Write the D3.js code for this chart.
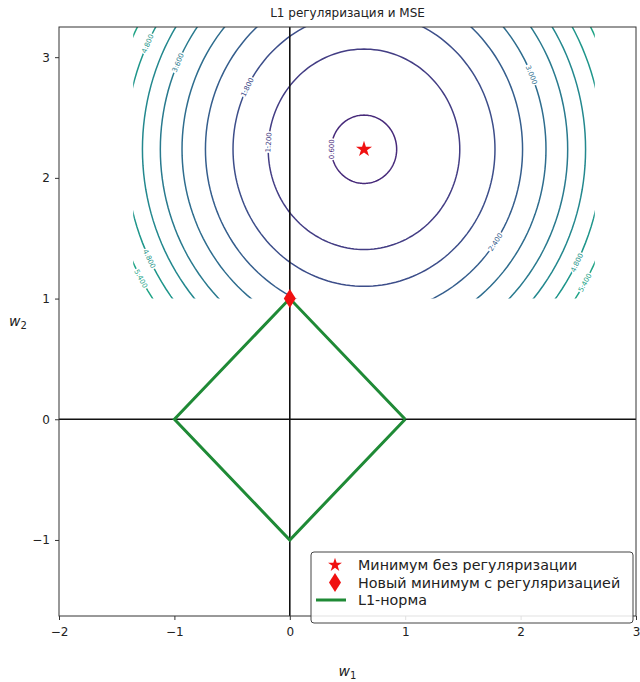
<!DOCTYPE html>
<html lang="ru">
<head>
  <meta charset="UTF-8">
  <title>L1 регуляризация и MSE</title>
  <script src="https://d3js.org/d3.v7.min.js"></script>
  <style>
    body { margin: 0; background: #fff; font-family: "DejaVu Sans", sans-serif; }
    svg { display: block; }
  </style>
</head>
<body>
  <div id="chart"></div>
  <script>
    // axis settings
    const xDomain = [-2, 3];
    const yDomain = [-1.63, 3.25];
    const xTicks = [-2, -1, 0, 1, 2, 3];
    const yTicks = [-1, 0, 1, 2, 3];

    // MSE minimum and the new (regularized) minimum
    const mseMin = [0.643, 2.237];
    const newMin = [0, 1];

    // contour levels and the radius of each circle
    const levels = [0.6, 1.2, 1.8, 2.4, 3.0, 3.6, 4.2, 4.8, 5.4];
    const radii  = [0.283, 0.83, 1.135, 1.374, 1.577, 1.765, 1.92, 2.07, 2.21];
    // extent of the grid the contours were computed on
    const gridX = [-1.357, 2.643];
    const gridY = [1.0, 3.4];

    // contour labels: level and angle on the circle (degrees)
    const labelLevels = [0.6, 1.2, 1.8, 2.4, 3.0, 3.6, 4.8, 4.8, 5.4, 4.8, 5.4];
    const labelAngles = [180, 176, 153, -34, 23, 156, 155, -154, -151, -27, -30];

    // L1 ball
    const l1X = [1, 0, -1, 0, 1];
    const l1Y = [0, 1, 0, -1, 0];

    const width = 640, height = 682;
    const margin = { top: 27, right: 4, bottom: 66, left: 59 };

    const svg = d3.select('#chart').append('svg')
      .attr('width', width)
      .attr('height', height);

    const x = d3.scaleLinear().domain(xDomain).range([margin.left, width - margin.right]);
    const y = d3.scaleLinear().domain(yDomain).range([height - margin.bottom, margin.top]);

    const color = i => d3.interpolateViridis(0.12 + i * 0.058);

    // clip to the grid area
    const defs = svg.append('defs');
    defs.append('clipPath').attr('id', 'grid-clip')
      .append('rect')
      .attr('x', x(gridX[0])).attr('y', Math.max(y(gridY[1]), margin.top))
      .attr('width', x(gridX[1]) - x(gridX[0]))
      .attr('height', y(gridY[0]) - Math.max(y(gridY[1]), margin.top));

    // contours
    const angles = d3.range(0, 361, 2);
    const circleLine = d3.line()
      .x(d => x(mseMin[0] + d.r * Math.cos(d.a * Math.PI / 180)))
      .y(d => y(mseMin[1] + d.r * Math.sin(d.a * Math.PI / 180)));

    const contourG = svg.append('g').attr('clip-path', 'url(#grid-clip)');
    contourG.selectAll('path')
      .data(levels)
      .enter().append('path')
      .attr('d', (lv, i) => circleLine(angles.map(a => ({ a: a, r: radii[i] }))))
      .attr('fill', 'none')
      .attr('stroke', (lv, i) => color(i))
      .attr('stroke-width', 1.5);

    // contour labels
    const labelG = svg.append('g');
    labelLevels.forEach((lv, k) => {
      const i = levels.indexOf(lv);
      const a = labelAngles[k] * Math.PI / 180;
      const px = x(mseMin[0] + radii[i] * Math.cos(a));
      const py = y(mseMin[1] + radii[i] * Math.sin(a));
      const sx = x(1) - x(0), sy = y(0) - y(1);
      let rot = Math.atan2(-Math.cos(a) * sy, -Math.sin(a) * sx) * 180 / Math.PI;
      if (rot > 90) rot -= 180;
      if (rot < -90) rot += 180;
      labelG.append('text')
        .attr('transform', `translate(${px},${py}) rotate(${rot})`)
        .attr('text-anchor', 'middle')
        .attr('dy', '0.35em')
        .attr('font-size', 7)
        .attr('fill', color(i))
        .attr('stroke', '#fff')
        .attr('stroke-width', 3)
        .attr('paint-order', 'stroke')
        .text(lv.toFixed(3));
    });

    // zero lines
    svg.append('line')
      .attr('x1', x(0)).attr('x2', x(0))
      .attr('y1', margin.top).attr('y2', height - margin.bottom)
      .attr('stroke', '#111').attr('stroke-width', 1.6);
    svg.append('line')
      .attr('x1', margin.left).attr('x2', width - margin.right)
      .attr('y1', y(0)).attr('y2', y(0))
      .attr('stroke', '#111').attr('stroke-width', 1.6);

    // L1 norm
    const l1Line = d3.line().x(d => x(d[0])).y(d => y(d[1]));
    svg.append('path')
      .attr('d', l1Line(l1X.map((v, i) => [v, l1Y[i]])))
      .attr('fill', 'none')
      .attr('stroke', '#1f8a36')
      .attr('stroke-width', 3)
      .attr('stroke-linejoin', 'miter');

    // markers
    const star = d3.symbol().type(d3.symbolStar).size(80);
    svg.append('path')
      .attr('d', star())
      .attr('transform', `translate(${x(mseMin[0])},${y(mseMin[1])})`)
      .attr('fill', '#f01010');

    const thinDiamond = 'M0,-9.5L6,0L0,9.5L-6,0Z';
    svg.append('path')
      .attr('d', thinDiamond)
      .attr('transform', `translate(${x(newMin[0])},${y(newMin[1])})`)
      .attr('fill', '#f01010');

    // axes
    const fmt = d => d < 0 ? '\u2212' + Math.abs(d) : d;
    const xAxis = svg.append('g')
      .attr('transform', `translate(0,${height - margin.bottom})`)
      .call(d3.axisBottom(x).tickValues(xTicks).tickSize(4).tickPadding(7).tickFormat(fmt));
    const yAxis = svg.append('g')
      .attr('transform', `translate(${margin.left},0)`)
      .call(d3.axisLeft(y).tickValues(yTicks).tickSize(4).tickPadding(5).tickFormat(fmt));
    [xAxis, yAxis].forEach(g => {
      g.select('.domain').remove();
      g.selectAll('text').attr('font-size', 12).attr('font-family', 'DejaVu Sans').attr('fill', '#222');
      g.selectAll('line').attr('stroke', '#333');
    });

    // frame
    svg.append('rect')
      .attr('x', margin.left).attr('y', margin.top)
      .attr('width', width - margin.left - margin.right)
      .attr('height', height - margin.top - margin.bottom)
      .attr('fill', 'none').attr('stroke', '#333').attr('stroke-width', 1);

    // title and labels
    svg.append('text')
      .attr('x', (margin.left + width - margin.right) / 2).attr('y', 17)
      .attr('text-anchor', 'middle').attr('font-size', 12).attr('fill', '#222')
      .text('L1 регуляризация и MSE');

    const xl = svg.append('text')
      .attr('x', (margin.left + width - margin.right) / 2).attr('y', 676)
      .attr('text-anchor', 'middle').attr('font-size', 14).attr('fill', '#222')
      .attr('font-style', 'italic');
    xl.append('tspan').text('w');
    xl.append('tspan').attr('font-size', 10).attr('dy', 3).attr('font-style', 'normal').text('1');

    const yl = svg.append('text')
      .attr('x', 18).attr('y', 326)
      .attr('text-anchor', 'middle').attr('font-size', 14).attr('fill', '#222')
      .attr('font-style', 'italic');
    yl.append('tspan').text('w');
    yl.append('tspan').attr('font-size', 10).attr('dy', 3).attr('font-style', 'normal').text('2');

    // legend
    const legendItems = ['Минимум без регуляризации', 'Новый минимум с регуляризацией', 'L1-норма'];
    const lg = svg.append('g').attr('transform', 'translate(311,552)');
    lg.append('rect')
      .attr('width', 322).attr('height', 71).attr('rx', 3)
      .attr('fill', 'rgba(255,255,255,0.85)').attr('stroke', '#444').attr('stroke-width', 1);
    legendItems.forEach((t, i) => {
      const yy = 13 + i * 17.5;
      const g = lg.append('g').attr('transform', `translate(24,${yy})`);
      if (i === 0) g.append('path').attr('d', d3.symbol().type(d3.symbolStar).size(60)()).attr('fill', '#f01010');
      if (i === 1) g.append('path').attr('d', thinDiamond).attr('fill', '#f01010');
      if (i === 2) g.append('line').attr('x1', -19).attr('x2', 11).attr('stroke', '#1f8a36').attr('stroke-width', 3);
      lg.append('text').attr('x', 47).attr('y', yy).attr('dy', '0.35em')
        .attr('font-size', 14.3).attr('fill', '#222').text(t);
    });
  </script>
</body>
</html>
